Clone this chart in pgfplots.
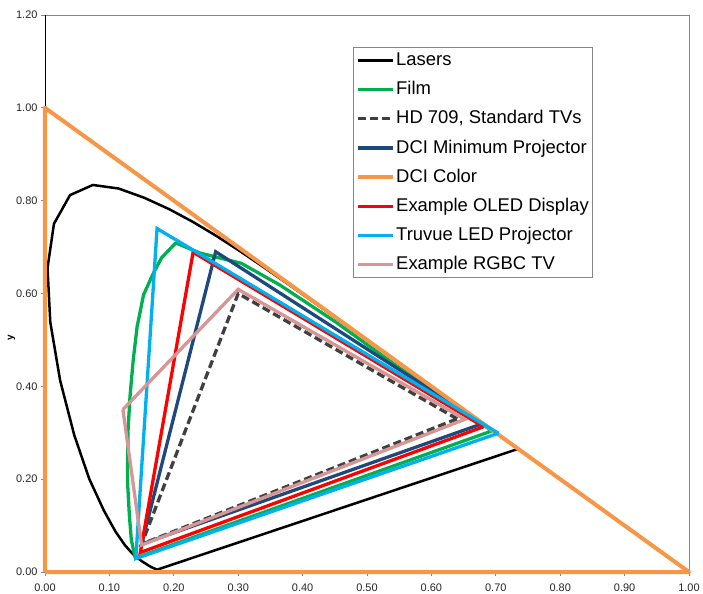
\documentclass[border=0pt]{standalone}
\usepackage{fontspec}
\setmainfont{Liberation Sans}
\usepackage{pgfplots}
\pgfplotsset{compat=1.18}
\definecolor{cfilm}{RGB}{0,176,80}
\definecolor{chd}{RGB}{64,64,64}
\definecolor{cdci}{RGB}{31,73,125}
\definecolor{corange}{RGB}{247,150,70}
\definecolor{cred}{RGB}{255,0,0}
\definecolor{ctru}{RGB}{0,176,240}
\definecolor{crgbc}{RGB}{214,150,148}
\definecolor{cframe}{RGB}{134,134,134}
\begin{document}
\begin{tikzpicture}
\begin{axis}[
  scale only axis, width=644bp, height=557bp,
  xmin=0, xmax=1, ymin=0, ymax=1.2,
  xtick={0,0.1,...,1.0}, ytick={0,0.2,...,1.2},
  tick pos=left, tick align=outside,
  major tick length=4bp,
  tick style={cframe, line width=0.8bp},
  axis line style={cframe, line width=0.8bp},
  clip=false,
  /pgf/number format/.cd, fixed, fixed zerofill, precision=2, assume math mode=true,
  /pgfplots/.cd,
  ticklabel style={font=\fontsize{11}{13}\selectfont, text=black!85},
  xticklabel style={yshift=-4bp},
  ylabel={y},
  ylabel style={at={(ticklabel cs:0.42)}, font=\bfseries\fontsize{10}{12}\selectfont, yshift=-6bp},
  legend cell align=left,
  legend style={at={(rel axis cs:0.478,0.9425)}, anchor=north west,
    draw=cframe, line width=0.8bp, fill=white,
    font=\fontsize{18.5}{22}\selectfont,
    inner xsep=3bp, inner ysep=3bp, row sep=9.2bp,
    nodes={inner sep=1bp, text height=14bp, text depth=4bp}},
  legend image code/.code={\draw[#1] (0bp,0bp) -- (35bp,0bp);},
]
\draw[black, line width=1bp] (axis cs:0,0) -- (axis cs:0,1.2);

\addplot[black, line width=2.5bp, line join=round] coordinates {
(0.1741,0.0050) (0.1644,0.0109) (0.1566,0.0177) (0.1510,0.0227) (0.1440,0.0297)
(0.1355,0.0399) (0.1241,0.0578) (0.1096,0.0868) (0.0913,0.1327) (0.0687,0.2007)
(0.0454,0.2950) (0.0235,0.4127) (0.0082,0.5384) (0.0039,0.6548) (0.0139,0.7502)
(0.0389,0.8120) (0.0743,0.8338) (0.1142,0.8262) (0.1547,0.8059) (0.1929,0.7816)
(0.2296,0.7543) (0.2658,0.7243) (0.3016,0.6923) (0.3373,0.6589) (0.3731,0.6245)
(0.4087,0.5896) (0.4441,0.5547) (0.4788,0.5202) (0.5125,0.4866) (0.5448,0.4544)
(0.5752,0.4242) (0.6029,0.3965) (0.6270,0.3725) (0.6482,0.3514) (0.6658,0.3340)
(0.6801,0.3197) (0.6915,0.3083) (0.7006,0.2993) (0.7079,0.2920) (0.7140,0.2859)
(0.7190,0.2809) (0.7230,0.2770) (0.7260,0.2740) (0.7347,0.2653) (0.1741,0.0050)
};
\addlegendentry{Lasers}

\addplot[cfilm, line width=3.3bp, line join=round] coordinates {
(0.140,0.030) (0.134,0.070) (0.131,0.122) (0.128,0.198) (0.129,0.306)
(0.132,0.378) (0.137,0.457) (0.143,0.528) (0.153,0.597) (0.167,0.640)
(0.181,0.677) (0.203,0.709) (0.241,0.687) (0.305,0.665) (0.365,0.618)
(0.450,0.540) (0.550,0.440) (0.694,0.304) (0.140,0.030)
};
\addlegendentry{Film}

\addplot[chd, line width=3.3bp, dash pattern=on 8bp off 4bp] coordinates {
(0.64,0.33) (0.30,0.60) (0.15,0.06) (0.64,0.33)
};
\addlegendentry{HD 709, Standard TVs}

\addplot[cdci, line width=3.3bp] coordinates {
(0.68,0.32) (0.265,0.69) (0.15,0.06) (0.68,0.32)
};
\addlegendentry{DCI Minimum Projector}

\addplot[corange, line width=4bp, line join=round] coordinates {
(0,0) (1,0) (0,1) (0,0)
};
\addlegendentry{DCI Color}

\addplot[cred, line width=3.3bp] coordinates {
(0.681,0.313) (0.230,0.689) (0.148,0.042) (0.681,0.313)
};
\addlegendentry{Example OLED Display}

\addplot[ctru, line width=3.3bp] coordinates {
(0.704,0.299) (0.174,0.740) (0.141,0.029) (0.704,0.299)
};
\addlegendentry{Truvue LED Projector}

\addplot[crgbc, line width=3.3bp] coordinates {
(0.121,0.350) (0.300,0.609) (0.652,0.329) (0.150,0.058) (0.121,0.350)
};
\addlegendentry{Example RGBC TV}
\end{axis}
\pgfresetboundingbox
\path[use as bounding box] ([shift={(-45bp,-22bp)}]current axis.south west) rectangle ([shift={(14bp,15bp)}]current axis.north east);
\end{tikzpicture}
\end{document}
